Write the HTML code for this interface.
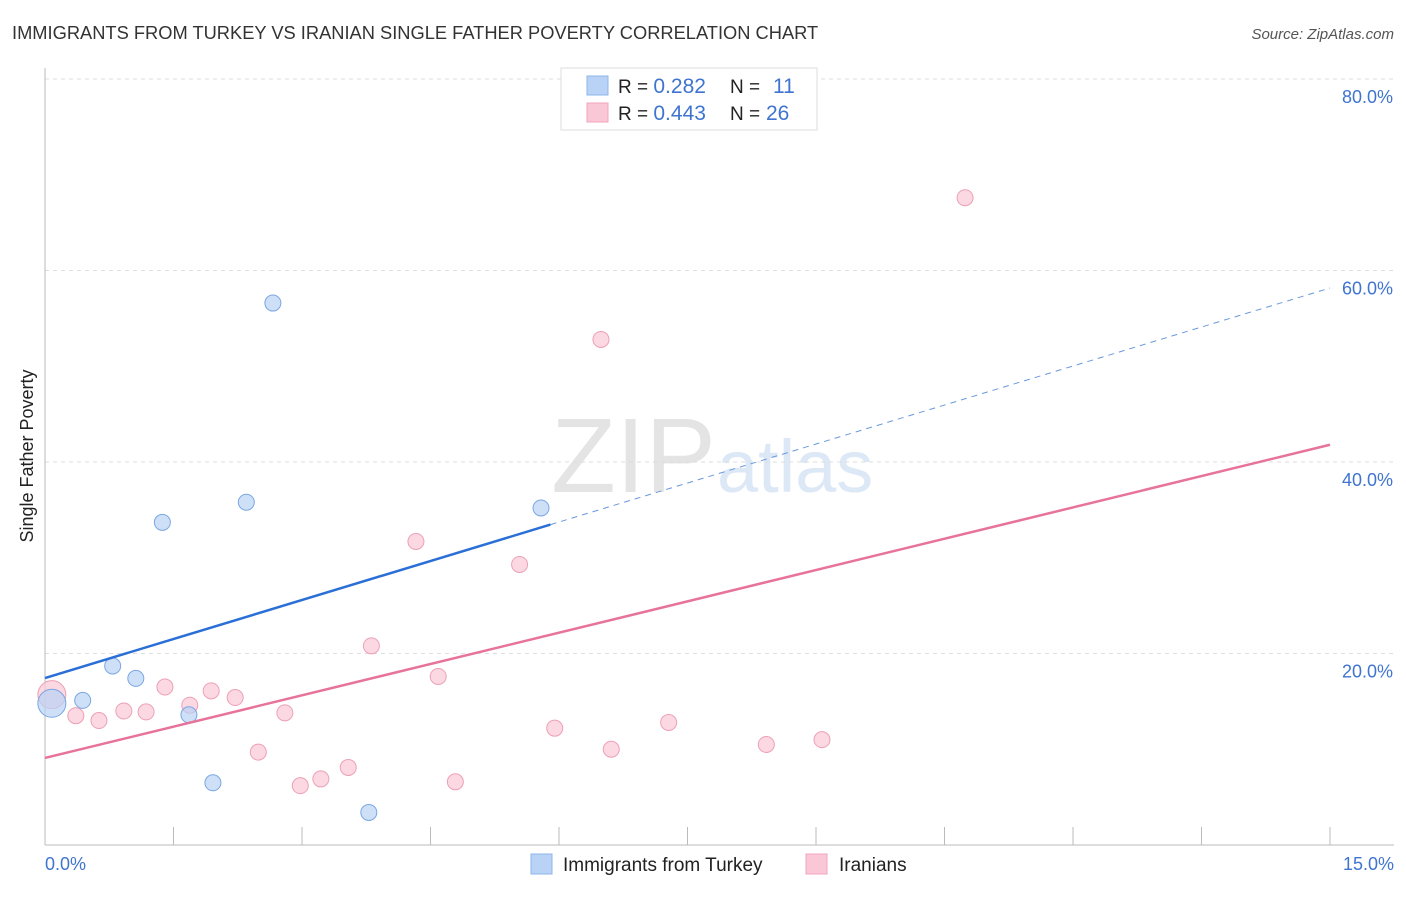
<!DOCTYPE html>
<html><head><meta charset="utf-8"><style>
body{margin:0;background:#fff;font-family:"Liberation Sans",sans-serif;}
svg text{font-family:"Liberation Sans",sans-serif;}
</style></head><body>
<svg id="c" width="1406" height="892">
<text x="12" y="39" font-size="18.3" fill="#333">IMMIGRANTS FROM TURKEY VS IRANIAN SINGLE FATHER POVERTY CORRELATION CHART</text>
<text x="1394" y="39" font-size="15" fill="#555" text-anchor="end" font-style="italic">Source: ZipAtlas.com</text>
<text x="33" y="456" font-size="18" fill="#222" text-anchor="middle" transform="rotate(-90 33 456)">Single Father Poverty</text>
<text x="716" y="492" font-size="106" fill="#e4e4e4" text-anchor="end" font-family="Liberation Serif">ZIP</text>
<text x="717" y="492" font-size="74" fill="#dce8f6">atlas</text>
<g id="grid"></g><g id="marks"></g>
<g>
<rect x="561" y="68" width="256" height="62" fill="#fff" stroke="#ddd"/>
<rect x="587" y="76" width="21" height="19" fill="#b8d3f5" stroke="#8db4ea"/>
<rect x="587" y="103" width="21" height="19" fill="#f9c7d5" stroke="#f0a4bb"/>
<text x="618" y="93" font-size="19" fill="#222">R = <tspan fill="#3f74d0" font-size="21">0.282</tspan><tspan x="730">N = </tspan><tspan x="773" fill="#3f74d0" font-size="21">11</tspan></text>
<text x="618" y="120" font-size="19" fill="#222">R = <tspan fill="#3f74d0" font-size="21">0.443</tspan><tspan x="730">N = </tspan><tspan x="766" fill="#3f74d0" font-size="21">26</tspan></text>
</g>
<g>
<rect x="531" y="854" width="21" height="20" fill="#b8d3f5" stroke="#8db4ea"/>
<text x="563" y="871" font-size="19" fill="#222">Immigrants from Turkey</text>
<rect x="806" y="854" width="21" height="20" fill="#f9c7d5" stroke="#f0a4bb"/>
<text x="839" y="871" font-size="19" fill="#222">Iranians</text>
</g>
</svg>
<script>
const blueX=[0.08,0.44,0.79,1.06,1.37,1.68,1.96,2.35,2.66,3.78,5.79];
const blueY=[14.8,15.1,18.7,17.4,33.7,13.6,6.5,35.8,56.6,3.4,35.2];
const pinkX=[0.08,0.36,0.63,0.92,1.18,1.40,1.69,1.94,2.22,2.49,2.80,2.98,3.22,3.54,3.81,4.33,4.59,4.79,5.54,5.95,6.49,6.61,7.28,8.42,9.07,10.74];
const pinkY=[15.7,13.5,13.0,14.0,13.9,16.5,14.6,16.1,15.4,9.7,13.8,6.2,6.9,8.1,20.8,31.7,17.6,6.6,29.3,12.2,52.8,10.0,12.8,10.5,11.0,67.6];
const blueTrend=[17.44,58.17];
const pinkTrend=[9.09,41.8];
const yTicks=[20,40,60,80];
const xTicks=[0,1.5,3,4.5,6,7.5,9,10.5,12,13.5,15];
const NS="http://www.w3.org/2000/svg";
const X=v=>45+v/15*1285, Y=v=>845-v*9.575;
function mk(t,a,p){const e=document.createElementNS(NS,t);for(const k in a)e.setAttribute(k,a[k]);p.appendChild(e);return e;}
const g=document.getElementById('grid'),m=document.getElementById('marks');
yTicks.forEach(t=>{
 const l=mk('line',{x1:45,x2:1394,y1:Y(t),y2:Y(t),stroke:'#ddd','stroke-dasharray':'4,4'},g);
 
 
 const tx=mk('text',{x:1393,y:Y(t)+24,'font-size':18,fill:'#3f74d0','text-anchor':'end'},g);tx.textContent=t.toFixed(1)+'%';
 
 
});
mk('line',{x1:45,x2:45,y1:68,y2:845,stroke:'#bbb'},g);
mk('line',{x1:45,x2:1394,y1:845,y2:845,stroke:'#bbb'},g);
xTicks.forEach(t=>{const l=mk('line',{x1:X(t),x2:X(t),y1:827,y2:845,stroke:'#bbb'},g);
 
 });
let a=mk('text',{x:45,y:870,'font-size':18,fill:'#3f74d0'},g);a.textContent='0.0%';


a=mk('text',{x:1394,y:870,'font-size':18,fill:'#3f74d0','text-anchor':'end'},g);a.textContent='15.0%';


function pts(xs,ys,fill,stroke,name){xs.forEach((x,i)=>{const c=mk('circle',{cx:X(x),cy:Y(ys[i]),r:i==0?14:8,fill:fill,stroke:stroke,'stroke-width':1,'fill-opacity':0.7},m);
 
 });}
pts(pinkX,pinkY,'#f9c7d5','#eda0b6','point-iranians');
pts(blueX,blueY,'#b8d3f5','#7aa6e2','point-turkey');
const bx=5.9,by=blueTrend[0]+(blueTrend[1]-blueTrend[0])*bx/15;
let l=mk('line',{x1:X(0),y1:Y(blueTrend[0]),x2:X(bx),y2:Y(by),stroke:'#2a6fd6','stroke-width':2.5},m);


l=mk('line',{x1:X(bx),y1:Y(by),x2:X(15),y2:Y(blueTrend[1]),stroke:'#6a98dc','stroke-width':1,'stroke-dasharray':'6,5'},m);


l=mk('line',{x1:X(0),y1:Y(pinkTrend[0]),x2:X(15),y2:Y(pinkTrend[1]),stroke:'#e8739a','stroke-width':2.5},m);


</script>
</body></html>
